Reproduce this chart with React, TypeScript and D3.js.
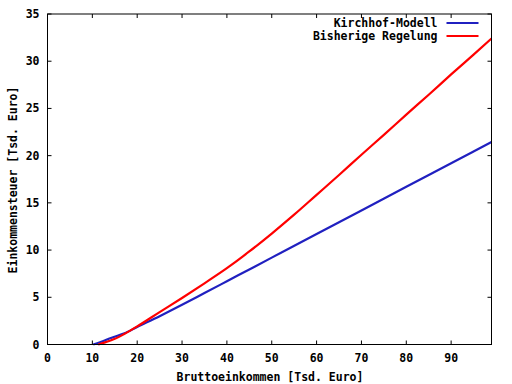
import React from "react";
import * as d3 from "d3";

const kirchhofX = [10.2, 12, 14.3, 17, 20, 25, 30, 35, 40, 45, 50, 60, 70, 80, 90, 99];
const kirchhofY = [0, 0.3, 0.72, 1.15, 1.85, 3.0, 4.2, 5.45, 6.7, 7.95, 9.2, 11.7, 14.2, 16.7, 19.2, 21.45];
const bisherX = [11.3, 13, 15, 17, 20, 25, 30, 35, 40, 45, 50, 55, 60, 65, 70, 75, 80, 85, 90, 95, 99];
const bisherY = [0, 0.25, 0.6, 1.08, 1.92, 3.43, 4.93, 6.48, 8.08, 9.85, 11.75, 13.75, 15.85, 17.95, 20.1, 22.2, 24.35, 26.45, 28.6, 30.7, 32.4];
const xTicks = [0, 10, 20, 30, 40, 50, 60, 70, 80, 90];
const yTicks = [0, 5, 10, 15, 20, 25, 30, 35];
const seriesNames = ["Kirchhof-Modell", "Bisherige Regelung"];
const colors = ["#2020c0", "#ff0000"];

export default function App() {
  const W = 512, H = 384;
  const L = 47.5, R = 491.5, T = 14, B = 344.5;
  const x = d3.scaleLinear().domain([0, 99]).range([L, R]);
  const y = d3.scaleLinear().domain([0, 35]).range([B, T]);
  const line = d3.line<[number, number]>().x(d => x(d[0])).y(d => y(d[1])).curve(d3.curveMonotoneX);
  const kData = kirchhofX.map((v, i) => [v, kirchhofY[i]] as [number, number]);
  const bData = bisherX.map((v, i) => [v, bisherY[i]] as [number, number]);
  const font = "'DejaVu Sans Mono', monospace";
  const fs = 11.5;
  return (
    <svg width={W} height={H} style={{ position: "absolute", left: 0, top: 0, background: "#fff" }}
      fontFamily={font} fontWeight="bold" fontSize={fs}>
      <rect x={0} y={0} width={W} height={H} fill="#fff" />
      {xTicks.map(t => (
        <g key={"x" + t}>
          <line x1={x(t)} x2={x(t)} y1={B} y2={B - 4} stroke="#000" />
          <line x1={x(t)} x2={x(t)} y1={T} y2={T + 4} stroke="#000" />
          <text x={x(t)} y={B + 17} textAnchor="middle">{t}</text>
        </g>
      ))}
      {yTicks.map(t => (
        <g key={"y" + t}>
          <line x1={L} x2={L + 4} y1={y(t)} y2={y(t)} stroke="#000" />
          <line x1={R} x2={R - 4} y1={y(t)} y2={y(t)} stroke="#000" />
          <text x={39.5} y={y(t) + 4} textAnchor="end">{t}</text>
        </g>
      ))}
      <path d={line(kData) || ""} fill="none" stroke={colors[0]} strokeWidth={2.2} />
      <path d={line(bData) || ""} fill="none" stroke={colors[1]} strokeWidth={2.2} />
      <rect x={L} y={T} width={R - L} height={B - T} fill="none" stroke="#000" strokeWidth={1} />
      {seriesNames.map((n, i) => (
        <g key={n}>
          <text x={437.5} y={27 + i * 13} textAnchor="end">{n}</text>
          <line x1={446.5} x2={478.5} y1={23 + i * 13} y2={23 + i * 13} stroke={colors[i]} strokeWidth={2.2} />
        </g>
      ))}
      <text x={270} y={381} textAnchor="middle">Bruttoeinkommen [Tsd. Euro]</text>
      <text transform="translate(17,180) rotate(-90)" textAnchor="middle">Einkommensteuer [Tsd. Euro]</text>
    </svg>
  );
}
